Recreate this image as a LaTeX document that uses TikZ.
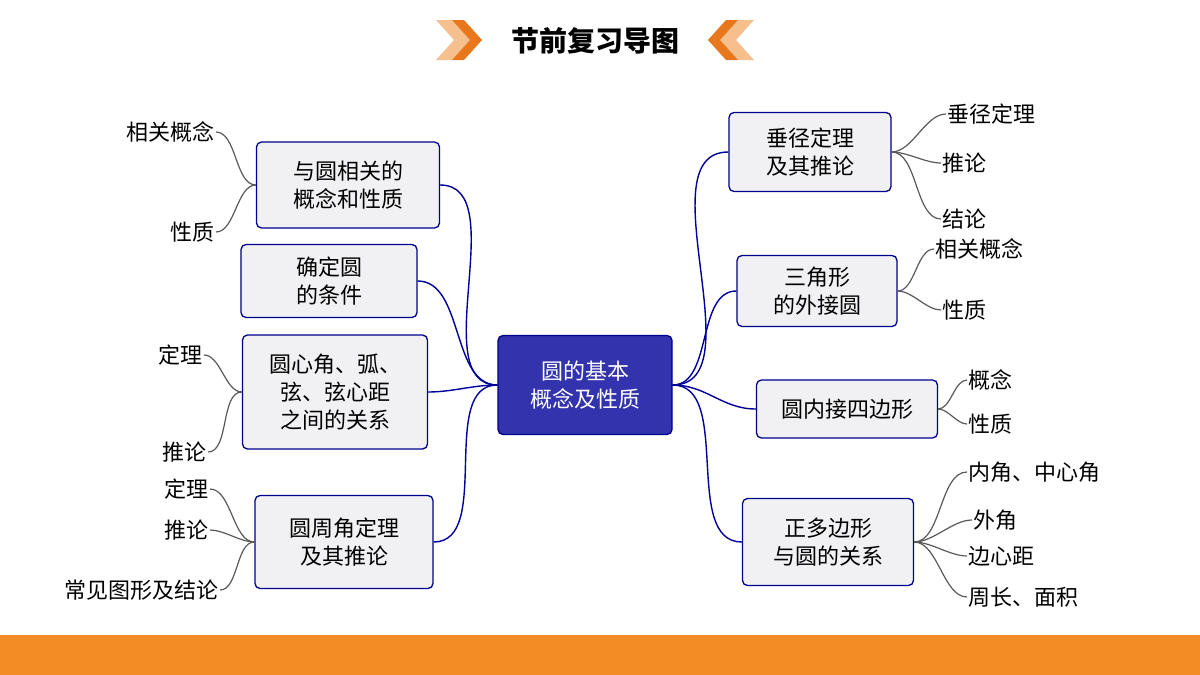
\documentclass[tikz,border=0pt]{standalone}
\usepackage{fontspec}
\setmainfont{Noto Sans CJK SC}
\newfontfamily\cjkb[BoldFont={Noto Sans CJK SC Bold}]{Noto Sans CJK SC}
\begin{document}
\begin{tikzpicture}[x=1pt,y=-1pt,
  box/.style={draw=blue!55!black,line width=1.3pt,rounded corners=5pt,fill=blue!6!gray!10,align=center,font=\fontsize{22}{28}\selectfont,inner sep=0pt},
  leaf/.style={font=\fontsize{22}{26}\selectfont,inner sep=1pt},
  bl/.style={draw=blue!60!black,line width=1.4pt},
  gl/.style={draw=gray!70!black,line width=1.2pt}]
\useasboundingbox (0,0) rectangle (1200,675);
\fill[orange!80!brown!90!white] (0,635) rectangle (1200,675);
\definecolor{lo}{HTML}{F5C08E}\definecolor{dk}{HTML}{E8761B}
\fill[lo] (436,20)--(452,20)--(470,40)--(452,60)--(436,60)--(454,40)--cycle;
\fill[dk] (452,20)--(464,20)--(482,40)--(464,60)--(452,60)--(470,40)--cycle;
\fill[lo] (754,20)--(738,20)--(720,40)--(738,60)--(754,60)--(736,40)--cycle;
\fill[dk] (738,20)--(726,20)--(708,40)--(726,60)--(738,60)--(720,40)--cycle;
\node[font=\fontsize{28}{30}\selectfont\bfseries] (title) at (595,41) {节前复习导图};
\node[box,fill=blue!60!black!80!white,text=white,minimum width=174,minimum height=99] (c) at (585,385) {圆的基本\\概念及性质};
\node[box,minimum width=183,minimum height=86] (l1) at (348,185) {与圆相关的\\概念和性质};
\node[box,minimum width=176,minimum height=73] (l2) at (329,281) {确定圆\\的条件};
\node[box,minimum width=185,minimum height=114] (l3) at (335,392) {圆心角、弧、\\弦、弦心距\\之间的关系};
\node[box,minimum width=178,minimum height=93] (l4) at (344,542) {圆周角定理\\及其推论};
\node[box,minimum width=162,minimum height=79] (r1) at (810,152) {垂径定理\\及其推论};
\node[box,minimum width=160,minimum height=71] (r2) at (817,291) {三角形\\的外接圆};
\node[box,minimum width=181,minimum height=58] (r3) at (847,409) {圆内接四边形};
\node[box,minimum width=171,minimum height=87] (r4) at (828,542) {正多边形\\与圆的关系};
\node[leaf,anchor=east] (a1) at (216,132) {相关概念};
\node[leaf,anchor=east] (a2) at (216,232) {性质};
\node[leaf,anchor=east] (b1) at (204,355) {定理};
\node[leaf,anchor=east] (b2) at (208,452) {推论};
\node[leaf,anchor=east] (d1) at (210,489) {定理};
\node[leaf,anchor=east] (d2) at (210,530) {推论};
\node[leaf,anchor=east] (d3) at (220,590) {常见图形及结论};
\node[leaf,anchor=west] (e1) at (946,114) {垂径定理};
\node[leaf,anchor=west] (e2) at (941,163) {推论};
\node[leaf,anchor=west] (e3) at (941,219) {结论};
\node[leaf,anchor=west] (f1) at (934,249) {相关概念};
\node[leaf,anchor=west] (f2) at (941,310) {性质};
\node[leaf,anchor=west] (g1) at (967,380) {概念};
\node[leaf,anchor=west] (g2) at (967,424) {性质};
\node[leaf,anchor=west] (h1) at (967,472) {内角、中心角};
\node[leaf,anchor=west] (h2) at (972,520) {外角};
\node[leaf,anchor=west] (h3) at (967,556) {边心距};
\node[leaf,anchor=west] (h4) at (967,597) {周长、面积};
\coordinate (cl) at (c.west); \coordinate (cr) at (c.east);
\foreach \n in {l1,l2,l3,l4}{\draw[bl] (cl) to[out=180,in=0,looseness=0.9] (\n.east);}
\foreach \n in {r1,r2,r4}{\draw[bl] (cr) to[out=0,in=180,looseness=0.9] (\n.west);}
\draw[bl] (cr) to[out=0,in=180] (r3.west);
\foreach \b/\l in {l1/a1,l1/a2,l3/b1,l3/b2,l4/d1,l4/d2,l4/d3}{\draw[gl] (\b.west) to[out=180,in=0,looseness=0.8] (\l.east);}
\foreach \b/\l in {r1/e1,r1/e2,r1/e3,r2/f1,r2/f2,r3/g1,r3/g2,r4/h1,r4/h2,r4/h3,r4/h4}{\draw[gl] (\b.east) to[out=0,in=180,looseness=0.8] (\l.west);}
\end{tikzpicture}
\end{document}
